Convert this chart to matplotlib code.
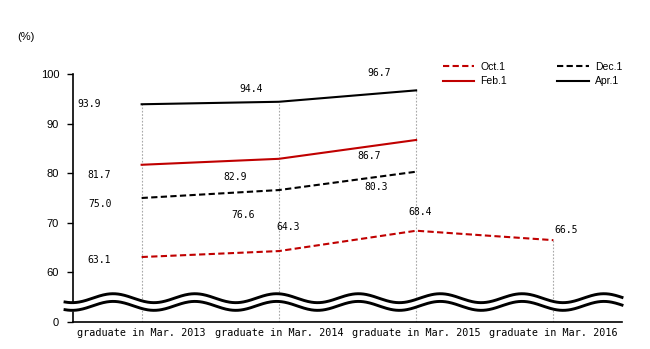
import numpy as np
import matplotlib
matplotlib.use("Agg")
import matplotlib.pyplot as plt

categories = ["graduate in Mar. 2013", "graduate in Mar. 2014",
              "graduate in Mar. 2015", "graduate in Mar. 2016"]
oct1 = [63.1, 64.3, 68.4, 66.5]
dec1 = [75.0, 76.6, 80.3]
feb1 = [81.7, 82.9, 86.7]
apr1 = [93.9, 94.4, 96.7]

# broken axis: the gap 0..60 is squeezed into one step (0 is drawn at 50)
ytick_pos = [50, 60, 70, 80, 90, 100]
ytick_labels = ["0", "60", "70", "80", "90", "100"]

# label offsets in pixels (Excel-style placement)
off_oct = [(-43, -3), (9, 24), (4, 19), (13, 10)]
off_dec = [(-42, -6), (-36, -25), (-40, -15)]
off_feb = [(-42, -10), (-44, -18), (-47, -16)]
off_apr = [(-52, 0), (-28, 13), (-37, 17)]

red = "#c00000"
sans = "Liberation Sans"
mono = "DejaVu Sans Mono"

fig = plt.figure(figsize=(6.5, 3.49), dpi=100)
ax = fig.add_axes([73 / 650, 27 / 349, 549 / 650, 248 / 349])

# drop lines from the highest point of each category
allseries = [oct1, dec1, feb1, apr1]
for i in range(len(categories)):
    top = max(s[i] for s in allseries if i < len(s))
    ax.plot([i, i], [50, top], color="#a8a8a8", lw=0.8, ls=(0, (1.5, 1.5)), zorder=1)

dash = (0, (3, 1.6))
series = [
    ("Oct.1", oct1, red, dash, off_oct),
    ("Dec.1", dec1, "black", dash, off_dec),
    ("Feb.1", feb1, red, "-", off_feb),
    ("Apr.1", apr1, "black", "-", off_apr),
]
handles = {}
for name, vals, col, ls, offs in series:
    x = np.arange(len(vals))
    h, = ax.plot(x, vals, color=col, ls=ls, lw=1.5, label=name, zorder=2)
    handles[name] = h
    for xi, v, (dx, dy) in zip(x, vals, offs):
        ax.annotate(f"{v:.1f}", (xi, v), xytext=(dx, dy), textcoords="offset pixels",
                    ha="center", va="center", fontsize=7, family=mono)

ax.set_xlim(-0.5, 3.5)
ax.set_ylim(50, 100)
ax.set_xticks(range(len(categories)))
ax.set_xticklabels(categories, family=mono, fontsize=7.3)
ax.tick_params(axis="x", length=0, pad=4)
ax.set_yticks(ytick_pos)
ax.set_yticklabels(ytick_labels, family=sans, fontsize=8)
ax.tick_params(axis="y", direction="out", length=4, width=1, pad=6)
for s in ["top", "right"]:
    ax.spines[s].set_visible(False)
for s in ["left", "bottom"]:
    ax.spines[s].set_linewidth(1.2)

# wavy break marks
xw = np.linspace(-0.558, 3.5, 600)
ph = np.cos(2 * np.pi * (xw + 0.208) / 0.596)
up = 54.8 + 0.9 * ph
lo = 53.25 + 0.9 * ph
ax.fill_between(xw, lo, up, color="white", zorder=3, clip_on=False)
ax.plot(xw, up, color="black", lw=2.1, zorder=4, clip_on=False)
ax.plot(xw, lo, color="black", lw=2.1, zorder=4, clip_on=False)

fig.text(17 / 650, 1 - 37 / 349, "(%)", family=sans, fontsize=8, va="center")

order = ["Oct.1", "Feb.1", "Dec.1", "Apr.1"]
fig.legend([handles[n] for n in order], order, loc="upper left",
           bbox_to_anchor=(443 / 650, 1 - 62 / 349), ncol=2, frameon=False,
           prop={"family": sans, "size": 7.5}, borderpad=0, borderaxespad=0,
           handlelength=3.0, handletextpad=0.6, columnspacing=4.8, labelspacing=0.4)

fig.savefig("out.png", dpi=100)
